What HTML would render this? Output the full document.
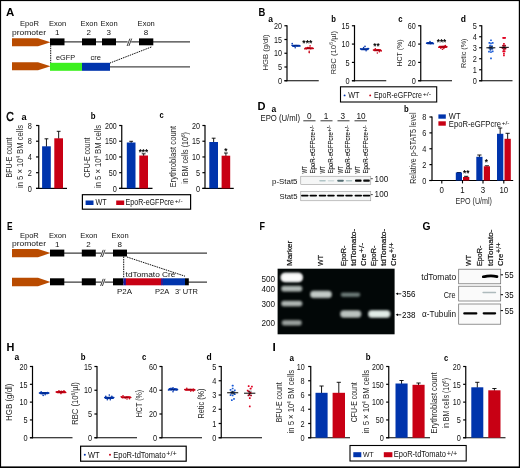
<!DOCTYPE html>
<html><head><meta charset="utf-8"><title>Figure</title>
<style>html,body{margin:0;padding:0;background:#fff}svg{display:block}text{font-family:"Liberation Sans",sans-serif}</style>
</head><body>
<svg width="520" height="468" viewBox="0 0 520 468">
<rect x="0" y="0" width="520" height="468" fill="#fff"/>
<rect x="0.00" y="0.00" width="520.00" height="1.10" fill="#000" />
<rect x="0.00" y="0.00" width="1.10" height="468.00" fill="#000" />
<rect x="518.80" y="0.00" width="1.20" height="468.00" fill="#000" />
<rect x="0.00" y="466.40" width="520.00" height="1.60" fill="#000" />
<text x="6.00" y="15.70" font-size="10.8" font-weight="bold" fill="#000" textLength="8.30" lengthAdjust="spacingAndGlyphs" >A</text>
<text x="20.00" y="26.00" font-size="8.0" fill="#111" textLength="19.00" lengthAdjust="spacingAndGlyphs" >EpoR</text>
<text x="12.00" y="34.60" font-size="8.0" fill="#111" textLength="34.00" lengthAdjust="spacingAndGlyphs" >promoter</text>
<text x="48.90" y="26.00" font-size="8.0" fill="#111" textLength="17.20" lengthAdjust="spacingAndGlyphs" >Exon</text>
<text x="57.30" y="35.10" font-size="8.0" text-anchor="middle" fill="#111">1</text>
<text x="80.40" y="26.00" font-size="8.0" fill="#111" textLength="17.20" lengthAdjust="spacingAndGlyphs" >Exon</text>
<text x="88.80" y="35.10" font-size="8.0" text-anchor="middle" fill="#111">2</text>
<text x="100.40" y="26.00" font-size="8.0" fill="#111" textLength="17.20" lengthAdjust="spacingAndGlyphs" >Exon</text>
<text x="108.80" y="35.10" font-size="8.0" text-anchor="middle" fill="#111">3</text>
<text x="137.60" y="26.00" font-size="8.0" fill="#111" textLength="17.20" lengthAdjust="spacingAndGlyphs" >Exon</text>
<text x="146.00" y="35.10" font-size="8.0" text-anchor="middle" fill="#111">8</text>
<line x1="50.00" y1="41.80" x2="190.00" y2="41.80" stroke="#3c3c3c" stroke-width="1.25" />
<polygon points="12,38.2 38,38.2 50.5,42.25 38,46.3 12,46.3" fill="#B94B00"/>
<rect x="50.00" y="38.40" width="14.50" height="6.90" fill="#000" />
<rect x="82.00" y="38.40" width="14.00" height="6.90" fill="#000" />
<rect x="102.00" y="38.40" width="14.00" height="6.90" fill="#000" />
<rect x="139.00" y="38.40" width="14.30" height="6.90" fill="#000" />
<rect x="127.60" y="40.50" width="3.60" height="2.50" fill="#fff" />
<line x1="127.10" y1="46.00" x2="129.90" y2="38.60" stroke="#000" stroke-width="0.75" />
<line x1="128.90" y1="46.00" x2="131.70" y2="38.60" stroke="#000" stroke-width="0.75" />
<line x1="50.00" y1="66.80" x2="190.00" y2="66.80" stroke="#484848" stroke-width="1.25" />
<polygon points="12,62.2 38,62.2 50.5,66.25 38,70.3 12,70.3" fill="#B94B00"/>
<rect x="50.00" y="62.80" width="32.00" height="8.00" fill="#3CF01E" />
<rect x="82.00" y="62.80" width="28.00" height="8.00" fill="#0034AC" />
<line x1="50.70" y1="45.30" x2="50.70" y2="62.80" stroke="#000" stroke-width="0.95" stroke-dasharray="1.5 0.9"/>
<line x1="151.30" y1="47.00" x2="110.00" y2="63.00" stroke="#000" stroke-width="0.95" stroke-dasharray="1.5 0.9"/>
<text x="56.00" y="60.20" font-size="8.0" fill="#111" textLength="19.00" lengthAdjust="spacingAndGlyphs" >eGFP</text>
<text x="90.50" y="60.20" font-size="8.0" fill="#111" textLength="10.50" lengthAdjust="spacingAndGlyphs" >cre</text>
<text x="258.60" y="15.50" font-size="10.5" font-weight="bold" fill="#000" textLength="6.80" lengthAdjust="spacingAndGlyphs" >B</text>
<text x="268.20" y="21.60" font-size="8.5" font-weight="bold" fill="#000" textLength="4.70" lengthAdjust="spacingAndGlyphs" >a</text>
<line x1="287.00" y1="25.15" x2="287.00" y2="81.35" stroke="#000" stroke-width="1.2" />
<line x1="284.40" y1="80.75" x2="318.75" y2="80.75" stroke="#000" stroke-width="1.2" />
<line x1="284.40" y1="25.75" x2="287.00" y2="25.75" stroke="#000" stroke-width="1.2" />
<text x="282.00" y="28.93" font-size="9.1" text-anchor="end" fill="#111" textLength="8.00" lengthAdjust="spacingAndGlyphs">20</text>
<line x1="284.40" y1="39.50" x2="287.00" y2="39.50" stroke="#000" stroke-width="1.2" />
<text x="282.00" y="42.69" font-size="9.1" text-anchor="end" fill="#111" textLength="8.00" lengthAdjust="spacingAndGlyphs">15</text>
<line x1="284.40" y1="53.25" x2="287.00" y2="53.25" stroke="#000" stroke-width="1.2" />
<text x="282.00" y="56.44" font-size="9.1" text-anchor="end" fill="#111" textLength="8.00" lengthAdjust="spacingAndGlyphs">10</text>
<line x1="284.40" y1="67.00" x2="287.00" y2="67.00" stroke="#000" stroke-width="1.2" />
<text x="282.00" y="70.19" font-size="9.1" text-anchor="end" fill="#111" textLength="4.10" lengthAdjust="spacingAndGlyphs">5</text>
<line x1="284.40" y1="80.75" x2="287.00" y2="80.75" stroke="#000" stroke-width="1.2" />
<text x="282.00" y="83.94" font-size="9.1" text-anchor="end" fill="#111" textLength="4.10" lengthAdjust="spacingAndGlyphs">0</text>
<text transform="translate(268.00,70.50) rotate(-90)" font-size="7.7" fill="#2a2a2a" textLength="36.00" lengthAdjust="spacingAndGlyphs">HGB (g/dl)</text>
<rect x="291.80" y="44.75" width="8.40" height="2.1" rx="1.05" fill="#0034AC"/>
<circle cx="292.00" cy="45.29" r="0.8" fill="#0034AC"/>
<circle cx="293.33" cy="46.29" r="0.8" fill="#0034AC"/>
<circle cx="294.67" cy="46.17" r="0.8" fill="#0034AC"/>
<circle cx="296.00" cy="45.46" r="0.8" fill="#0034AC"/>
<circle cx="297.33" cy="45.79" r="0.8" fill="#0034AC"/>
<circle cx="298.67" cy="45.73" r="0.8" fill="#0034AC"/>
<circle cx="300.00" cy="46.01" r="0.8" fill="#0034AC"/>
<circle cx="292.20" cy="43.60" r="0.8" fill="#0034AC"/>
<circle cx="295.20" cy="47.70" r="0.8" fill="#0034AC"/>
<line x1="294.00" y1="45.80" x2="298.00" y2="45.80" stroke="#000" stroke-width="0.5" opacity="0.55"/>
<rect x="304.60" y="47.15" width="8.80" height="2.1" rx="1.05" fill="#C80014"/>
<circle cx="304.80" cy="48.84" r="0.8" fill="#C80014"/>
<circle cx="306.20" cy="48.83" r="0.8" fill="#C80014"/>
<circle cx="307.60" cy="47.58" r="0.8" fill="#C80014"/>
<circle cx="309.00" cy="47.62" r="0.8" fill="#C80014"/>
<circle cx="310.40" cy="48.67" r="0.8" fill="#C80014"/>
<circle cx="311.80" cy="48.53" r="0.8" fill="#C80014"/>
<circle cx="313.20" cy="48.44" r="0.8" fill="#C80014"/>
<circle cx="310.10" cy="45.90" r="0.8" fill="#C80014"/>
<circle cx="309.20" cy="51.20" r="0.8" fill="#C80014"/>
<circle cx="309.20" cy="52.60" r="0.8" fill="#C80014"/>
<line x1="307.00" y1="48.20" x2="311.00" y2="48.20" stroke="#000" stroke-width="0.5" opacity="0.55"/>
<text x="307.30" y="46.40" font-size="8.8" text-anchor="middle" font-weight="bold" fill="#000" textLength="10.00" lengthAdjust="spacingAndGlyphs">***</text>
<text x="331.20" y="21.60" font-size="8.5" font-weight="bold" fill="#000" textLength="4.70" lengthAdjust="spacingAndGlyphs" >b</text>
<line x1="354.50" y1="25.15" x2="354.50" y2="81.35" stroke="#000" stroke-width="1.2" />
<line x1="351.90" y1="80.75" x2="386.25" y2="80.75" stroke="#000" stroke-width="1.2" />
<line x1="351.90" y1="25.75" x2="354.50" y2="25.75" stroke="#000" stroke-width="1.2" />
<text x="349.50" y="28.93" font-size="9.1" text-anchor="end" fill="#111" textLength="8.00" lengthAdjust="spacingAndGlyphs">15</text>
<line x1="351.90" y1="44.08" x2="354.50" y2="44.08" stroke="#000" stroke-width="1.2" />
<text x="349.50" y="47.27" font-size="9.1" text-anchor="end" fill="#111" textLength="8.00" lengthAdjust="spacingAndGlyphs">10</text>
<line x1="351.90" y1="62.42" x2="354.50" y2="62.42" stroke="#000" stroke-width="1.2" />
<text x="349.50" y="65.60" font-size="9.1" text-anchor="end" fill="#111" textLength="4.10" lengthAdjust="spacingAndGlyphs">5</text>
<line x1="351.90" y1="80.75" x2="354.50" y2="80.75" stroke="#000" stroke-width="1.2" />
<text x="349.50" y="83.94" font-size="9.1" text-anchor="end" fill="#111" textLength="4.10" lengthAdjust="spacingAndGlyphs">0</text>
<text transform="translate(335.70,74.50) rotate(-90)" font-size="7.7" fill="#2a2a2a" textLength="43.50" lengthAdjust="spacingAndGlyphs">RBC (10<tspan dy="-3.1" font-size="5.6">6</tspan><tspan dy="3.1">/µl)</tspan></text>
<rect x="360.40" y="48.15" width="8.40" height="2.1" rx="1.05" fill="#0034AC"/>
<circle cx="360.60" cy="48.83" r="0.8" fill="#0034AC"/>
<circle cx="361.93" cy="49.26" r="0.8" fill="#0034AC"/>
<circle cx="363.27" cy="49.02" r="0.8" fill="#0034AC"/>
<circle cx="364.60" cy="49.35" r="0.8" fill="#0034AC"/>
<circle cx="365.93" cy="49.38" r="0.8" fill="#0034AC"/>
<circle cx="367.27" cy="48.59" r="0.8" fill="#0034AC"/>
<circle cx="368.60" cy="48.52" r="0.8" fill="#0034AC"/>
<circle cx="365.00" cy="46.40" r="0.8" fill="#0034AC"/>
<circle cx="363.60" cy="47.60" r="0.8" fill="#0034AC"/>
<circle cx="366.10" cy="50.70" r="0.8" fill="#0034AC"/>
<line x1="362.60" y1="49.20" x2="366.60" y2="49.20" stroke="#000" stroke-width="0.5" opacity="0.55"/>
<rect x="373.30" y="49.25" width="8.10" height="2.1" rx="1.05" fill="#C80014"/>
<circle cx="373.50" cy="49.93" r="0.8" fill="#C80014"/>
<circle cx="374.78" cy="49.74" r="0.8" fill="#C80014"/>
<circle cx="376.07" cy="50.15" r="0.8" fill="#C80014"/>
<circle cx="377.35" cy="49.82" r="0.8" fill="#C80014"/>
<circle cx="378.63" cy="49.69" r="0.8" fill="#C80014"/>
<circle cx="379.92" cy="50.16" r="0.8" fill="#C80014"/>
<circle cx="381.20" cy="50.89" r="0.8" fill="#C80014"/>
<circle cx="377.35" cy="53.00" r="0.8" fill="#C80014"/>
<circle cx="375.35" cy="48.70" r="0.8" fill="#C80014"/>
<circle cx="379.35" cy="51.80" r="0.8" fill="#C80014"/>
<line x1="375.35" y1="50.30" x2="379.35" y2="50.30" stroke="#000" stroke-width="0.5" opacity="0.55"/>
<text x="376.40" y="49.30" font-size="8.8" text-anchor="middle" font-weight="bold" fill="#000" textLength="6.40" lengthAdjust="spacingAndGlyphs">**</text>
<text x="398.20" y="21.60" font-size="8.5" font-weight="bold" fill="#000" textLength="4.30" lengthAdjust="spacingAndGlyphs" >c</text>
<line x1="420.75" y1="25.15" x2="420.75" y2="81.35" stroke="#000" stroke-width="1.2" />
<line x1="418.15" y1="80.75" x2="452.00" y2="80.75" stroke="#000" stroke-width="1.2" />
<line x1="418.15" y1="25.75" x2="420.75" y2="25.75" stroke="#000" stroke-width="1.2" />
<text x="415.75" y="28.93" font-size="9.1" text-anchor="end" fill="#111" textLength="8.00" lengthAdjust="spacingAndGlyphs">60</text>
<line x1="418.15" y1="44.08" x2="420.75" y2="44.08" stroke="#000" stroke-width="1.2" />
<text x="415.75" y="47.27" font-size="9.1" text-anchor="end" fill="#111" textLength="8.00" lengthAdjust="spacingAndGlyphs">40</text>
<line x1="418.15" y1="62.42" x2="420.75" y2="62.42" stroke="#000" stroke-width="1.2" />
<text x="415.75" y="65.60" font-size="9.1" text-anchor="end" fill="#111" textLength="8.00" lengthAdjust="spacingAndGlyphs">20</text>
<line x1="418.15" y1="80.75" x2="420.75" y2="80.75" stroke="#000" stroke-width="1.2" />
<text x="415.75" y="83.94" font-size="9.1" text-anchor="end" fill="#111" textLength="4.10" lengthAdjust="spacingAndGlyphs">0</text>
<text transform="translate(401.70,66.50) rotate(-90)" font-size="7.7" fill="#2a2a2a" textLength="27.00" lengthAdjust="spacingAndGlyphs">HCT (%)</text>
<rect x="426.40" y="42.05" width="7.20" height="2.1" rx="1.05" fill="#0034AC"/>
<circle cx="426.60" cy="43.27" r="0.8" fill="#0034AC"/>
<circle cx="427.96" cy="43.44" r="0.8" fill="#0034AC"/>
<circle cx="429.32" cy="43.51" r="0.8" fill="#0034AC"/>
<circle cx="430.68" cy="43.72" r="0.8" fill="#0034AC"/>
<circle cx="432.04" cy="43.44" r="0.8" fill="#0034AC"/>
<circle cx="433.40" cy="43.69" r="0.8" fill="#0034AC"/>
<circle cx="430.00" cy="41.60" r="0.8" fill="#0034AC"/>
<line x1="428.00" y1="43.10" x2="432.00" y2="43.10" stroke="#000" stroke-width="0.5" opacity="0.55"/>
<rect x="438.60" y="45.85" width="8.50" height="2.1" rx="1.05" fill="#C80014"/>
<circle cx="438.80" cy="47.31" r="0.8" fill="#C80014"/>
<circle cx="440.15" cy="47.35" r="0.8" fill="#C80014"/>
<circle cx="441.50" cy="46.88" r="0.8" fill="#C80014"/>
<circle cx="442.85" cy="46.57" r="0.8" fill="#C80014"/>
<circle cx="444.20" cy="46.20" r="0.8" fill="#C80014"/>
<circle cx="445.55" cy="47.13" r="0.8" fill="#C80014"/>
<circle cx="446.90" cy="46.86" r="0.8" fill="#C80014"/>
<circle cx="442.45" cy="49.20" r="0.8" fill="#C80014"/>
<circle cx="443.85" cy="48.50" r="0.8" fill="#C80014"/>
<circle cx="440.85" cy="48.30" r="0.8" fill="#C80014"/>
<circle cx="445.35" cy="45.50" r="0.8" fill="#C80014"/>
<line x1="440.85" y1="46.90" x2="444.85" y2="46.90" stroke="#000" stroke-width="0.5" opacity="0.55"/>
<text x="441.50" y="44.90" font-size="8.8" text-anchor="middle" font-weight="bold" fill="#000" textLength="9.60" lengthAdjust="spacingAndGlyphs">***</text>
<text x="460.80" y="21.60" font-size="8.5" font-weight="bold" fill="#000" textLength="5.20" lengthAdjust="spacingAndGlyphs" >d</text>
<line x1="481.75" y1="25.15" x2="481.75" y2="81.35" stroke="#000" stroke-width="1.2" />
<line x1="479.15" y1="80.75" x2="512.50" y2="80.75" stroke="#000" stroke-width="1.2" />
<line x1="479.15" y1="25.75" x2="481.75" y2="25.75" stroke="#000" stroke-width="1.2" />
<text x="476.75" y="28.93" font-size="9.1" text-anchor="end" fill="#111" textLength="4.10" lengthAdjust="spacingAndGlyphs">5</text>
<line x1="479.15" y1="36.75" x2="481.75" y2="36.75" stroke="#000" stroke-width="1.2" />
<text x="476.75" y="39.94" font-size="9.1" text-anchor="end" fill="#111" textLength="4.10" lengthAdjust="spacingAndGlyphs">4</text>
<line x1="479.15" y1="47.75" x2="481.75" y2="47.75" stroke="#000" stroke-width="1.2" />
<text x="476.75" y="50.94" font-size="9.1" text-anchor="end" fill="#111" textLength="4.10" lengthAdjust="spacingAndGlyphs">3</text>
<line x1="479.15" y1="58.75" x2="481.75" y2="58.75" stroke="#000" stroke-width="1.2" />
<text x="476.75" y="61.94" font-size="9.1" text-anchor="end" fill="#111" textLength="4.10" lengthAdjust="spacingAndGlyphs">2</text>
<line x1="479.15" y1="69.75" x2="481.75" y2="69.75" stroke="#000" stroke-width="1.2" />
<text x="476.75" y="72.94" font-size="9.1" text-anchor="end" fill="#111" textLength="4.10" lengthAdjust="spacingAndGlyphs">1</text>
<line x1="479.15" y1="80.75" x2="481.75" y2="80.75" stroke="#000" stroke-width="1.2" />
<text x="476.75" y="83.94" font-size="9.1" text-anchor="end" fill="#111" textLength="4.10" lengthAdjust="spacingAndGlyphs">0</text>
<text transform="translate(466.00,68.00) rotate(-90)" font-size="7.7" fill="#2a2a2a" textLength="29.50" lengthAdjust="spacingAndGlyphs">Retic (%)</text>
<rect x="490.14" y="39.40" width="1.7" height="1.7" rx="0.3" fill="#1A5BD6"/>
<rect x="488.50" y="42.01" width="1.7" height="1.7" rx="0.3" fill="#1A5BD6"/>
<rect x="490.14" y="42.61" width="1.7" height="1.7" rx="0.3" fill="#1A5BD6"/>
<rect x="491.87" y="42.01" width="1.7" height="1.7" rx="0.3" fill="#1A5BD6"/>
<rect x="489.25" y="44.86" width="1.7" height="1.7" rx="0.3" fill="#1A5BD6"/>
<rect x="491.12" y="45.23" width="1.7" height="1.7" rx="0.3" fill="#1A5BD6"/>
<rect x="488.50" y="47.10" width="1.7" height="1.7" rx="0.3" fill="#1A5BD6"/>
<rect x="490.14" y="47.10" width="1.7" height="1.7" rx="0.3" fill="#1A5BD6"/>
<rect x="491.49" y="47.85" width="1.7" height="1.7" rx="0.3" fill="#1A5BD6"/>
<rect x="489.62" y="48.97" width="1.7" height="1.7" rx="0.3" fill="#1A5BD6"/>
<rect x="488.13" y="50.84" width="1.7" height="1.7" rx="0.3" fill="#1A5BD6"/>
<rect x="490.14" y="51.21" width="1.7" height="1.7" rx="0.3" fill="#1A5BD6"/>
<rect x="491.87" y="50.47" width="1.7" height="1.7" rx="0.3" fill="#1A5BD6"/>
<rect x="490.14" y="57.57" width="1.7" height="1.7" rx="0.3" fill="#1A5BD6"/>
<line x1="486.36" y1="47.80" x2="495.33" y2="47.80" stroke="#000" stroke-width="1.0" />
<line x1="488.85" y1="46.60" x2="492.85" y2="46.60" stroke="#000" stroke-width="0.5" />
<line x1="488.85" y1="49.00" x2="492.85" y2="49.00" stroke="#000" stroke-width="0.5" />
<line x1="490.85" y1="46.60" x2="490.85" y2="49.00" stroke="#000" stroke-width="0.5" />
<rect x="502.34" y="37.00" width="1.7" height="1.7" rx="0.3" fill="#E00020"/>
<rect x="503.23" y="37.00" width="1.7" height="1.7" rx="0.3" fill="#E00020"/>
<rect x="504.21" y="37.00" width="1.7" height="1.7" rx="0.3" fill="#E00020"/>
<rect x="503.08" y="42.99" width="1.7" height="1.7" rx="0.3" fill="#E00020"/>
<rect x="502.34" y="44.86" width="1.7" height="1.7" rx="0.3" fill="#E00020"/>
<rect x="504.21" y="44.86" width="1.7" height="1.7" rx="0.3" fill="#E00020"/>
<rect x="503.08" y="46.73" width="1.7" height="1.7" rx="0.3" fill="#E00020"/>
<rect x="501.59" y="47.10" width="1.7" height="1.7" rx="0.3" fill="#E00020"/>
<rect x="504.58" y="47.85" width="1.7" height="1.7" rx="0.3" fill="#E00020"/>
<rect x="503.08" y="48.97" width="1.7" height="1.7" rx="0.3" fill="#E00020"/>
<rect x="502.34" y="50.47" width="1.7" height="1.7" rx="0.3" fill="#E00020"/>
<rect x="503.83" y="50.47" width="1.7" height="1.7" rx="0.3" fill="#E00020"/>
<rect x="503.08" y="52.71" width="1.7" height="1.7" rx="0.3" fill="#E00020"/>
<rect x="503.08" y="54.58" width="1.7" height="1.7" rx="0.3" fill="#E00020"/>
<line x1="499.30" y1="47.35" x2="508.80" y2="47.35" stroke="#000" stroke-width="1.0" />
<line x1="502.05" y1="45.95" x2="506.05" y2="45.95" stroke="#000" stroke-width="0.5" />
<line x1="502.05" y1="48.75" x2="506.05" y2="48.75" stroke="#000" stroke-width="0.5" />
<line x1="504.05" y1="45.95" x2="504.05" y2="48.75" stroke="#000" stroke-width="0.5" />
<rect x="340.5" y="86.8" width="96.2" height="15.2" fill="#fff" stroke="#000" stroke-width="1.1"/>
<circle cx="344.6" cy="95.4" r="0.95" fill="#0034AC"/>
<text x="348.20" y="98.10" font-size="8.3" fill="#111" textLength="11.30" lengthAdjust="spacingAndGlyphs" >WT</text>
<circle cx="370.2" cy="95.4" r="0.95" fill="#C80014"/>
<text x="373.90" y="98.10" font-size="8.3" fill="#111" textLength="48.10" lengthAdjust="spacingAndGlyphs" >EpoR-eGFPcre</text>
<text x="422.70" y="96.20" font-size="6.2" fill="#111" textLength="8.50" lengthAdjust="spacingAndGlyphs" >+/-</text>
<text x="6.20" y="120.80" font-size="12.6" fill="#000" textLength="7.60" lengthAdjust="spacingAndGlyphs" style="stroke:#000;stroke-width:0.5px">C</text>
<text x="21.60" y="119.50" font-size="8.5" font-weight="bold" fill="#000" textLength="5.10" lengthAdjust="spacingAndGlyphs" >a</text>
<line x1="38.75" y1="124.90" x2="38.75" y2="189.00" stroke="#000" stroke-width="1.2" />
<line x1="36.05" y1="188.40" x2="67.00" y2="188.40" stroke="#000" stroke-width="1.2" />
<line x1="36.05" y1="125.50" x2="38.75" y2="125.50" stroke="#000" stroke-width="1.2" />
<text x="31.85" y="128.69" font-size="9.1" text-anchor="end" fill="#111" textLength="4.10" lengthAdjust="spacingAndGlyphs">8</text>
<line x1="36.05" y1="141.22" x2="38.75" y2="141.22" stroke="#000" stroke-width="1.2" />
<text x="31.85" y="144.41" font-size="9.1" text-anchor="end" fill="#111" textLength="4.10" lengthAdjust="spacingAndGlyphs">8</text>
<line x1="36.05" y1="156.95" x2="38.75" y2="156.95" stroke="#000" stroke-width="1.2" />
<text x="31.85" y="160.13" font-size="9.1" text-anchor="end" fill="#111" textLength="4.10" lengthAdjust="spacingAndGlyphs">4</text>
<line x1="36.05" y1="172.68" x2="38.75" y2="172.68" stroke="#000" stroke-width="1.2" />
<text x="31.85" y="175.86" font-size="9.1" text-anchor="end" fill="#111" textLength="4.10" lengthAdjust="spacingAndGlyphs">2</text>
<line x1="36.05" y1="188.40" x2="38.75" y2="188.40" stroke="#000" stroke-width="1.2" />
<text x="31.85" y="191.59" font-size="9.1" text-anchor="end" fill="#111" textLength="4.10" lengthAdjust="spacingAndGlyphs">0</text>
<line x1="46.45" y1="138.80" x2="46.45" y2="146.80" stroke="#000" stroke-width="0.9" />
<line x1="44.55" y1="138.80" x2="48.35" y2="138.80" stroke="#000" stroke-width="0.9" />
<rect x="42.10" y="146.30" width="8.70" height="42.10" fill="#0034AC" />
<line x1="58.65" y1="131.30" x2="58.65" y2="138.80" stroke="#000" stroke-width="0.9" />
<line x1="56.75" y1="131.30" x2="60.55" y2="131.30" stroke="#000" stroke-width="0.9" />
<rect x="54.30" y="138.30" width="8.70" height="50.10" fill="#C80014" />
<text transform="translate(11.80,177.50) rotate(-90)" font-size="9.7" fill="#2a2a2a" textLength="40.00" lengthAdjust="spacingAndGlyphs">BFU-E count</text>
<text transform="translate(23.20,188.00) rotate(-90)" font-size="9.7" fill="#2a2a2a" textLength="63.00" lengthAdjust="spacingAndGlyphs">in 5 × 10<tspan dy="-3.1" font-size="5.6">4</tspan><tspan dy="3.1"> BM cells</tspan></text>
<text x="90.80" y="119.00" font-size="8.5" font-weight="bold" fill="#000" textLength="4.80" lengthAdjust="spacingAndGlyphs" >b</text>
<line x1="121.75" y1="124.90" x2="121.75" y2="189.00" stroke="#000" stroke-width="1.2" />
<line x1="119.15" y1="188.40" x2="152.50" y2="188.40" stroke="#000" stroke-width="1.2" />
<line x1="119.15" y1="125.50" x2="121.75" y2="125.50" stroke="#000" stroke-width="1.2" />
<text x="116.75" y="128.69" font-size="9.1" text-anchor="end" fill="#111" textLength="11.70" lengthAdjust="spacingAndGlyphs">200</text>
<line x1="119.15" y1="141.22" x2="121.75" y2="141.22" stroke="#000" stroke-width="1.2" />
<text x="116.75" y="144.41" font-size="9.1" text-anchor="end" fill="#111" textLength="11.70" lengthAdjust="spacingAndGlyphs">150</text>
<line x1="119.15" y1="156.95" x2="121.75" y2="156.95" stroke="#000" stroke-width="1.2" />
<text x="116.75" y="160.13" font-size="9.1" text-anchor="end" fill="#111" textLength="11.70" lengthAdjust="spacingAndGlyphs">100</text>
<line x1="119.15" y1="172.68" x2="121.75" y2="172.68" stroke="#000" stroke-width="1.2" />
<text x="116.75" y="175.86" font-size="9.1" text-anchor="end" fill="#111" textLength="8.00" lengthAdjust="spacingAndGlyphs">50</text>
<line x1="119.15" y1="188.40" x2="121.75" y2="188.40" stroke="#000" stroke-width="1.2" />
<text x="116.75" y="191.59" font-size="9.1" text-anchor="end" fill="#111" textLength="4.10" lengthAdjust="spacingAndGlyphs">0</text>
<line x1="131.15" y1="141.30" x2="131.15" y2="143.00" stroke="#000" stroke-width="0.9" />
<line x1="129.25" y1="141.30" x2="133.05" y2="141.30" stroke="#000" stroke-width="0.9" />
<rect x="126.80" y="142.50" width="8.70" height="45.90" fill="#0034AC" />
<line x1="143.65" y1="153.80" x2="143.65" y2="156.00" stroke="#000" stroke-width="0.9" />
<line x1="141.75" y1="153.80" x2="145.55" y2="153.80" stroke="#000" stroke-width="0.9" />
<rect x="139.30" y="155.50" width="8.70" height="32.90" fill="#C80014" />
<text x="143.40" y="154.90" font-size="8.8" text-anchor="middle" font-weight="bold" fill="#000" textLength="9.40" lengthAdjust="spacingAndGlyphs">***</text>
<text transform="translate(90.00,177.50) rotate(-90)" font-size="9.7" fill="#2a2a2a" textLength="40.00" lengthAdjust="spacingAndGlyphs">CFU-E count</text>
<text transform="translate(101.30,188.00) rotate(-90)" font-size="9.7" fill="#2a2a2a" textLength="63.00" lengthAdjust="spacingAndGlyphs">in 5 × 10<tspan dy="-3.1" font-size="5.6">4</tspan><tspan dy="3.1"> BM cells</tspan></text>
<text x="159.60" y="118.40" font-size="8.5" font-weight="bold" fill="#000" textLength="4.20" lengthAdjust="spacingAndGlyphs" >c</text>
<line x1="205.00" y1="124.90" x2="205.00" y2="189.00" stroke="#000" stroke-width="1.2" />
<line x1="202.40" y1="188.40" x2="233.75" y2="188.40" stroke="#000" stroke-width="1.2" />
<line x1="202.40" y1="125.50" x2="205.00" y2="125.50" stroke="#000" stroke-width="1.2" />
<text x="200.00" y="128.69" font-size="9.1" text-anchor="end" fill="#111" textLength="8.00" lengthAdjust="spacingAndGlyphs">20</text>
<line x1="202.40" y1="141.22" x2="205.00" y2="141.22" stroke="#000" stroke-width="1.2" />
<text x="200.00" y="144.41" font-size="9.1" text-anchor="end" fill="#111" textLength="8.00" lengthAdjust="spacingAndGlyphs">15</text>
<line x1="202.40" y1="156.95" x2="205.00" y2="156.95" stroke="#000" stroke-width="1.2" />
<text x="200.00" y="160.13" font-size="9.1" text-anchor="end" fill="#111" textLength="8.00" lengthAdjust="spacingAndGlyphs">10</text>
<line x1="202.40" y1="172.68" x2="205.00" y2="172.68" stroke="#000" stroke-width="1.2" />
<text x="200.00" y="175.86" font-size="9.1" text-anchor="end" fill="#111" textLength="4.10" lengthAdjust="spacingAndGlyphs">5</text>
<line x1="202.40" y1="188.40" x2="205.00" y2="188.40" stroke="#000" stroke-width="1.2" />
<text x="200.00" y="191.59" font-size="9.1" text-anchor="end" fill="#111" textLength="4.10" lengthAdjust="spacingAndGlyphs">0</text>
<line x1="213.65" y1="138.20" x2="213.65" y2="142.50" stroke="#000" stroke-width="0.9" />
<line x1="211.75" y1="138.20" x2="215.55" y2="138.20" stroke="#000" stroke-width="0.9" />
<rect x="209.30" y="142.00" width="8.70" height="46.40" fill="#0034AC" />
<line x1="225.90" y1="153.00" x2="225.90" y2="156.20" stroke="#000" stroke-width="0.9" />
<line x1="224.00" y1="153.00" x2="227.80" y2="153.00" stroke="#000" stroke-width="0.9" />
<rect x="221.60" y="155.70" width="8.60" height="32.70" fill="#C80014" />
<text x="225.80" y="153.70" font-size="8.8" text-anchor="middle" font-weight="bold" fill="#000" textLength="3.20" lengthAdjust="spacingAndGlyphs">*</text>
<text transform="translate(176.00,187.50) rotate(-90)" font-size="9.7" fill="#2a2a2a" textLength="61.50" lengthAdjust="spacingAndGlyphs">Erythroblast count</text>
<text transform="translate(187.60,183.80) rotate(-90)" font-size="8.5" fill="#2a2a2a" textLength="51.80" lengthAdjust="spacingAndGlyphs">in BM cells (10<tspan dy="-3.1" font-size="5.6">6</tspan><tspan dy="3.1">)</tspan></text>
<rect x="82.4" y="194.7" width="108.2" height="14.5" fill="#fff" stroke="#000" stroke-width="1.2"/>
<rect x="85.60" y="200.50" width="7.90" height="4.50" fill="#0034AC" />
<text x="95.60" y="205.30" font-size="8.6" fill="#111" textLength="11.10" lengthAdjust="spacingAndGlyphs" >WT</text>
<rect x="116.20" y="200.50" width="8.00" height="4.50" fill="#C80014" />
<text x="125.60" y="205.30" font-size="8.6" fill="#111" textLength="48.40" lengthAdjust="spacingAndGlyphs" >EpoR-eGFPcre</text>
<text x="174.70" y="203.40" font-size="6.0" fill="#111" textLength="7.90" lengthAdjust="spacingAndGlyphs" >+/-</text>
<text x="257.50" y="110.20" font-size="10.5" font-weight="bold" fill="#000" textLength="8.00" lengthAdjust="spacingAndGlyphs" >D</text>
<text x="271.60" y="112.40" font-size="8.5" font-weight="bold" fill="#000" textLength="4.70" lengthAdjust="spacingAndGlyphs" >a</text>
<text x="260.50" y="121.00" font-size="8.3" fill="#111" textLength="39.50" lengthAdjust="spacingAndGlyphs" >EPO (U/ml)</text>
<text x="309.20" y="119.20" font-size="8.2" text-anchor="middle" fill="#111">0</text>
<line x1="303.30" y1="120.80" x2="315.50" y2="120.80" stroke="#222" stroke-width="0.9" />
<text x="326.00" y="119.20" font-size="8.2" text-anchor="middle" fill="#111">1</text>
<line x1="320.50" y1="120.80" x2="332.50" y2="120.80" stroke="#222" stroke-width="0.9" />
<text x="342.80" y="119.20" font-size="8.2" text-anchor="middle" fill="#111">3</text>
<line x1="337.50" y1="120.80" x2="349.50" y2="120.80" stroke="#222" stroke-width="0.9" />
<text x="361.00" y="119.20" font-size="8.2" text-anchor="middle" fill="#111">10</text>
<line x1="354.50" y1="120.80" x2="367.00" y2="120.80" stroke="#222" stroke-width="0.9" />
<text transform="translate(307.20,173.60) rotate(-90)" font-size="6.5" fill="#111" textLength="7.50" lengthAdjust="spacingAndGlyphs" style="stroke:#111;stroke-width:0.08px">WT</text>
<text transform="translate(315.10,173.60) rotate(-90)" font-size="6.5" fill="#111" textLength="41.60" lengthAdjust="spacingAndGlyphs" style="stroke:#111;stroke-width:0.08px">EpoR-eGFPcre</text>
<text transform="translate(313.60,131.70) rotate(-90)" font-size="5.4" fill="#111" textLength="6.40" lengthAdjust="spacingAndGlyphs" style="stroke:#111;stroke-width:0.08px">+/-</text>
<text transform="translate(324.90,173.60) rotate(-90)" font-size="6.5" fill="#111" textLength="7.50" lengthAdjust="spacingAndGlyphs" style="stroke:#111;stroke-width:0.08px">WT</text>
<text transform="translate(332.80,173.60) rotate(-90)" font-size="6.5" fill="#111" textLength="41.60" lengthAdjust="spacingAndGlyphs" style="stroke:#111;stroke-width:0.08px">EpoR-eGFPcre</text>
<text transform="translate(331.30,131.70) rotate(-90)" font-size="5.4" fill="#111" textLength="6.40" lengthAdjust="spacingAndGlyphs" style="stroke:#111;stroke-width:0.08px">+/-</text>
<text transform="translate(342.50,173.60) rotate(-90)" font-size="6.5" fill="#111" textLength="7.50" lengthAdjust="spacingAndGlyphs" style="stroke:#111;stroke-width:0.08px">WT</text>
<text transform="translate(350.40,173.60) rotate(-90)" font-size="6.5" fill="#111" textLength="41.60" lengthAdjust="spacingAndGlyphs" style="stroke:#111;stroke-width:0.08px">EpoR-eGFPcre</text>
<text transform="translate(348.90,131.70) rotate(-90)" font-size="5.4" fill="#111" textLength="6.40" lengthAdjust="spacingAndGlyphs" style="stroke:#111;stroke-width:0.08px">+/-</text>
<text transform="translate(360.10,173.60) rotate(-90)" font-size="6.5" fill="#111" textLength="7.50" lengthAdjust="spacingAndGlyphs" style="stroke:#111;stroke-width:0.08px">WT</text>
<text transform="translate(368.00,173.60) rotate(-90)" font-size="6.5" fill="#111" textLength="41.60" lengthAdjust="spacingAndGlyphs" style="stroke:#111;stroke-width:0.08px">EpoR-eGFPcre</text>
<text transform="translate(366.50,131.70) rotate(-90)" font-size="5.4" fill="#111" textLength="6.40" lengthAdjust="spacingAndGlyphs" style="stroke:#111;stroke-width:0.08px">+/-</text>
<text x="272.00" y="183.60" font-size="7.8" fill="#111" textLength="25.50" lengthAdjust="spacingAndGlyphs" >p-Stat5</text>
<text x="279.50" y="198.80" font-size="7.8" fill="#111" textLength="18.00" lengthAdjust="spacingAndGlyphs" >Stat5</text>
<defs><filter id="bl" x="-20%" y="-100%" width="140%" height="300%"><feGaussianBlur stdDeviation="0.45"/></filter><filter id="bl2" x="-20%" y="-100%" width="140%" height="300%"><feGaussianBlur stdDeviation="0.9"/></filter></defs>
<rect x="300.8" y="176.2" width="70" height="8.2" fill="#f5f6f6" stroke="#888" stroke-width="0.5"/>
<rect x="300.8" y="191.4" width="70" height="9.4" fill="#f5f6f6" stroke="#888" stroke-width="0.5"/>
<rect x="319.20" y="179.90" width="6.6" height="1.60" rx="0.8" fill="#4c7c80" opacity="0.4" filter="url(#bl)"/>
<rect x="327.70" y="180.00" width="6.6" height="1.40" rx="0.8" fill="#4c7c80" opacity="0.2" filter="url(#bl)"/>
<rect x="337.20" y="179.72" width="6.6" height="1.95" rx="0.8" fill="#1c3c44" opacity="0.75" filter="url(#bl)"/>
<rect x="345.70" y="179.90" width="6.6" height="1.60" rx="0.8" fill="#4c7c80" opacity="0.4" filter="url(#bl)"/>
<rect x="355.00" y="179.60" width="6.6" height="2.20" rx="0.8" fill="#000" opacity="1" filter="url(#bl)"/>
<rect x="363.20" y="179.62" width="6.6" height="2.15" rx="0.8" fill="#000" opacity="0.95" filter="url(#bl)"/>
<rect x="301.05" y="194.7" width="7.5" height="1.8" rx="0.9" fill="#000" filter="url(#bl)"/>
<rect x="309.55" y="194.7" width="7.5" height="1.8" rx="0.9" fill="#000" filter="url(#bl)"/>
<rect x="318.75" y="194.7" width="7.5" height="1.8" rx="0.9" fill="#000" filter="url(#bl)"/>
<rect x="327.25" y="194.7" width="7.5" height="1.8" rx="0.9" fill="#000" filter="url(#bl)"/>
<rect x="336.75" y="194.7" width="7.5" height="1.8" rx="0.9" fill="#000" filter="url(#bl)"/>
<rect x="345.25" y="194.7" width="7.5" height="1.8" rx="0.9" fill="#000" filter="url(#bl)"/>
<rect x="354.55" y="194.7" width="7.5" height="1.8" rx="0.9" fill="#000" filter="url(#bl)"/>
<rect x="362.75" y="194.7" width="7.5" height="1.8" rx="0.9" fill="#000" filter="url(#bl)"/>
<line x1="370.80" y1="178.70" x2="372.80" y2="178.70" stroke="#000" stroke-width="0.7" />
<line x1="370.80" y1="194.60" x2="372.80" y2="194.60" stroke="#000" stroke-width="0.7" />
<text x="374.60" y="181.90" font-size="8.6" fill="#111" textLength="13.60" lengthAdjust="spacingAndGlyphs" >100</text>
<text x="374.60" y="197.20" font-size="8.6" fill="#111" textLength="13.60" lengthAdjust="spacingAndGlyphs" >100</text>
<text x="404.10" y="111.80" font-size="8.5" font-weight="bold" fill="#000" textLength="4.70" lengthAdjust="spacingAndGlyphs" >b</text>
<line x1="432.00" y1="116.40" x2="432.00" y2="181.10" stroke="#000" stroke-width="1.2" />
<line x1="429.40" y1="180.50" x2="513.20" y2="180.50" stroke="#000" stroke-width="1.2" />
<line x1="429.40" y1="117.00" x2="432.00" y2="117.00" stroke="#000" stroke-width="1.2" />
<text x="426.40" y="120.19" font-size="9.1" text-anchor="end" fill="#111" textLength="4.10" lengthAdjust="spacingAndGlyphs">8</text>
<line x1="429.40" y1="132.88" x2="432.00" y2="132.88" stroke="#000" stroke-width="1.2" />
<text x="426.40" y="136.06" font-size="9.1" text-anchor="end" fill="#111" textLength="4.10" lengthAdjust="spacingAndGlyphs">6</text>
<line x1="429.40" y1="148.75" x2="432.00" y2="148.75" stroke="#000" stroke-width="1.2" />
<text x="426.40" y="151.94" font-size="9.1" text-anchor="end" fill="#111" textLength="4.10" lengthAdjust="spacingAndGlyphs">4</text>
<line x1="429.40" y1="164.62" x2="432.00" y2="164.62" stroke="#000" stroke-width="1.2" />
<text x="426.40" y="167.81" font-size="9.1" text-anchor="end" fill="#111" textLength="4.10" lengthAdjust="spacingAndGlyphs">2</text>
<line x1="429.40" y1="180.50" x2="432.00" y2="180.50" stroke="#000" stroke-width="1.2" />
<text x="426.40" y="183.69" font-size="9.1" text-anchor="end" fill="#111" textLength="4.10" lengthAdjust="spacingAndGlyphs">0</text>
<line x1="441.80" y1="180.50" x2="441.80" y2="183.40" stroke="#000" stroke-width="1.1" />
<text x="441.80" y="193.00" font-size="9.2" text-anchor="middle" fill="#111" textLength="4.40" lengthAdjust="spacingAndGlyphs">0</text>
<line x1="462.50" y1="180.50" x2="462.50" y2="183.40" stroke="#000" stroke-width="1.1" />
<text x="462.50" y="193.00" font-size="9.2" text-anchor="middle" fill="#111" textLength="4.40" lengthAdjust="spacingAndGlyphs">1</text>
<line x1="483.00" y1="180.50" x2="483.00" y2="183.40" stroke="#000" stroke-width="1.1" />
<text x="483.00" y="193.00" font-size="9.2" text-anchor="middle" fill="#111" textLength="4.40" lengthAdjust="spacingAndGlyphs">3</text>
<line x1="503.80" y1="180.50" x2="503.80" y2="183.40" stroke="#000" stroke-width="1.1" />
<text x="503.80" y="193.00" font-size="9.2" text-anchor="middle" fill="#111" textLength="8.80" lengthAdjust="spacingAndGlyphs">10</text>
<text x="455.50" y="203.60" font-size="9.2" fill="#2a2a2a" textLength="36.50" lengthAdjust="spacingAndGlyphs" >EPO (U/ml)</text>
<text transform="translate(416.20,183.80) rotate(-90)" font-size="9.7" fill="#2a2a2a" textLength="71.30" lengthAdjust="spacingAndGlyphs">Relative p-STAT5 level</text>
<line x1="458.90" y1="172.50" x2="458.90" y2="173.00" stroke="#000" stroke-width="0.9" />
<line x1="456.80" y1="172.50" x2="461.00" y2="172.50" stroke="#000" stroke-width="0.9" />
<rect x="455.80" y="172.50" width="6.20" height="8.00" fill="#0034AC" />
<line x1="466.15" y1="176.30" x2="466.15" y2="177.50" stroke="#000" stroke-width="0.9" />
<line x1="464.05" y1="176.30" x2="468.25" y2="176.30" stroke="#000" stroke-width="0.9" />
<rect x="463.00" y="177.00" width="6.30" height="3.50" fill="#C80014" />
<line x1="479.40" y1="155.00" x2="479.40" y2="157.30" stroke="#000" stroke-width="0.9" />
<line x1="477.30" y1="155.00" x2="481.50" y2="155.00" stroke="#000" stroke-width="0.9" />
<rect x="476.30" y="156.80" width="6.20" height="23.70" fill="#0034AC" />
<line x1="486.90" y1="165.80" x2="486.90" y2="166.80" stroke="#000" stroke-width="0.9" />
<line x1="484.80" y1="165.80" x2="489.00" y2="165.80" stroke="#000" stroke-width="0.9" />
<rect x="483.80" y="166.30" width="6.20" height="14.20" fill="#C80014" />
<line x1="500.15" y1="128.00" x2="500.15" y2="134.30" stroke="#000" stroke-width="0.9" />
<line x1="498.05" y1="128.00" x2="502.25" y2="128.00" stroke="#000" stroke-width="0.9" />
<rect x="497.00" y="133.80" width="6.30" height="46.70" fill="#0034AC" />
<line x1="507.65" y1="133.30" x2="507.65" y2="139.30" stroke="#000" stroke-width="0.9" />
<line x1="505.55" y1="133.30" x2="509.75" y2="133.30" stroke="#000" stroke-width="0.9" />
<rect x="504.50" y="138.80" width="6.30" height="41.70" fill="#C80014" />
<text x="466.30" y="175.70" font-size="8.8" text-anchor="middle" font-weight="bold" fill="#000" textLength="6.40" lengthAdjust="spacingAndGlyphs">**</text>
<text x="486.40" y="164.90" font-size="8.8" text-anchor="middle" font-weight="bold" fill="#000" textLength="3.20" lengthAdjust="spacingAndGlyphs">*</text>
<rect x="438.40" y="114.40" width="7.40" height="4.30" fill="#0034AC" />
<text x="448.80" y="119.30" font-size="8.6" fill="#111" textLength="11.70" lengthAdjust="spacingAndGlyphs" >WT</text>
<rect x="438.40" y="121.30" width="7.40" height="4.40" fill="#C80014" />
<text x="448.80" y="126.60" font-size="8.6" fill="#111" textLength="52.20" lengthAdjust="spacingAndGlyphs" >EpoR-eGFPcre</text>
<text x="501.70" y="124.70" font-size="6.0" fill="#111" textLength="7.70" lengthAdjust="spacingAndGlyphs" >+/-</text>
<text x="7.00" y="229.60" font-size="10.5" font-weight="bold" fill="#000" textLength="5.60" lengthAdjust="spacingAndGlyphs" >E</text>
<text x="20.00" y="237.60" font-size="8.0" fill="#111" textLength="18.80" lengthAdjust="spacingAndGlyphs" >EpoR</text>
<text x="12.00" y="246.20" font-size="8.0" fill="#111" textLength="34.00" lengthAdjust="spacingAndGlyphs" >promoter</text>
<text x="48.90" y="237.60" font-size="8.0" fill="#111" textLength="17.20" lengthAdjust="spacingAndGlyphs" >Exon</text>
<text x="57.30" y="246.60" font-size="8.0" text-anchor="middle" fill="#111">1</text>
<text x="80.20" y="237.60" font-size="8.0" fill="#111" textLength="17.20" lengthAdjust="spacingAndGlyphs" >Exon</text>
<text x="88.60" y="246.60" font-size="8.0" text-anchor="middle" fill="#111">2</text>
<text x="111.40" y="237.60" font-size="8.0" fill="#111" textLength="17.20" lengthAdjust="spacingAndGlyphs" >Exon</text>
<text x="119.80" y="246.60" font-size="8.0" text-anchor="middle" fill="#111">8</text>
<line x1="50.00" y1="253.00" x2="207.00" y2="253.00" stroke="#3c3c3c" stroke-width="1.25" />
<polygon points="12,249 38,249 50.5,253.1 38,257.2 12,257.2" fill="#B94B00"/>
<rect x="50.00" y="249.60" width="14.30" height="6.90" fill="#000" />
<rect x="81.80" y="249.60" width="14.00" height="6.90" fill="#000" />
<rect x="113.00" y="249.60" width="14.00" height="6.90" fill="#000" />
<rect x="101.30" y="251.50" width="3.30" height="2.90" fill="#fff" />
<line x1="100.60" y1="257.00" x2="103.20" y2="249.80" stroke="#000" stroke-width="0.75" />
<line x1="102.40" y1="257.00" x2="105.00" y2="249.80" stroke="#000" stroke-width="0.75" />
<line x1="50.00" y1="282.00" x2="207.00" y2="282.00" stroke="#3c3c3c" stroke-width="1.25" />
<polygon points="12,277.8 38,277.8 50.5,282.0 38,286.2 12,286.2" fill="#B94B00"/>
<rect x="50.00" y="278.30" width="14.30" height="7.00" fill="#000" />
<rect x="81.80" y="278.30" width="14.00" height="7.00" fill="#000" />
<rect x="113.00" y="278.30" width="10.40" height="7.00" fill="#000" />
<rect x="185.00" y="278.30" width="3.80" height="7.00" fill="#000" />
<rect x="101.30" y="280.50" width="3.30" height="2.90" fill="#fff" />
<line x1="100.60" y1="286.00" x2="103.20" y2="278.80" stroke="#000" stroke-width="0.75" />
<line x1="102.40" y1="286.00" x2="105.00" y2="278.80" stroke="#000" stroke-width="0.75" />
<rect x="123.40" y="278.30" width="2.60" height="7.00" fill="#1a1aa0" />
<rect x="125.80" y="278.30" width="35.50" height="7.00" fill="#C80014" />
<rect x="161.00" y="278.30" width="2.30" height="7.00" fill="#3a1a90" />
<rect x="163.00" y="278.30" width="22.00" height="7.00" fill="#0034AC" />
<line x1="123.70" y1="256.60" x2="123.70" y2="278.30" stroke="#000" stroke-width="0.95" stroke-dasharray="1.5 0.9"/>
<line x1="127.00" y1="257.00" x2="185.00" y2="276.20" stroke="#000" stroke-width="0.95" stroke-dasharray="1.5 0.9"/>
<text x="125.60" y="277.40" font-size="8.0" fill="#111" textLength="49.90" lengthAdjust="spacingAndGlyphs" >tdTomato Cre</text>
<text x="117.00" y="293.60" font-size="8.0" fill="#111" textLength="15.00" lengthAdjust="spacingAndGlyphs" >P2A</text>
<text x="155.00" y="293.60" font-size="8.0" fill="#111" textLength="14.30" lengthAdjust="spacingAndGlyphs" >P2A</text>
<text x="175.00" y="293.60" font-size="8.0" fill="#111" textLength="23.00" lengthAdjust="spacingAndGlyphs" >3' UTR</text>
<text x="259.50" y="229.60" font-size="10.5" font-weight="bold" fill="#000" textLength="5.50" lengthAdjust="spacingAndGlyphs" >F</text>
<rect x="277.60" y="268.70" width="117.00" height="65.60" fill="#020707" />
<text transform="translate(292.30,266.10) rotate(-90)" font-size="7.7" fill="#111" textLength="25.30" lengthAdjust="spacingAndGlyphs" style="stroke:#111;stroke-width:0.2px">Marker</text>
<text transform="translate(323.00,266.10) rotate(-90)" font-size="7.7" fill="#111" textLength="11.10" lengthAdjust="spacingAndGlyphs" style="stroke:#111;stroke-width:0.2px">WT</text>
<text transform="translate(345.50,266.10) rotate(-90)" font-size="7.7" fill="#111" textLength="20.60" lengthAdjust="spacingAndGlyphs" style="stroke:#111;stroke-width:0.2px">EpoR-</text>
<text transform="translate(356.20,266.10) rotate(-90)" font-size="7.7" fill="#111" textLength="37.40" lengthAdjust="spacingAndGlyphs" style="stroke:#111;stroke-width:0.2px">tdTomato-</text>
<text transform="translate(365.70,266.10) rotate(-90)" font-size="7.7" fill="#111" textLength="12.40" lengthAdjust="spacingAndGlyphs" style="stroke:#111;stroke-width:0.2px">Cre</text>
<text transform="translate(363.70,252.90) rotate(-90)" font-size="6.4" fill="#111" textLength="10.10" lengthAdjust="spacingAndGlyphs" style="stroke:#111;stroke-width:0.15px">+/-</text>
<text transform="translate(375.70,266.10) rotate(-90)" font-size="7.7" fill="#111" textLength="20.60" lengthAdjust="spacingAndGlyphs" style="stroke:#111;stroke-width:0.2px">EpoR-</text>
<text transform="translate(386.20,266.10) rotate(-90)" font-size="7.7" fill="#111" textLength="37.40" lengthAdjust="spacingAndGlyphs" style="stroke:#111;stroke-width:0.2px">tdTomato-</text>
<text transform="translate(395.70,266.10) rotate(-90)" font-size="7.7" fill="#111" textLength="12.40" lengthAdjust="spacingAndGlyphs" style="stroke:#111;stroke-width:0.2px">Cre</text>
<text transform="translate(393.70,252.90) rotate(-90)" font-size="6.4" fill="#111" textLength="10.30" lengthAdjust="spacingAndGlyphs" style="stroke:#111;stroke-width:0.15px">+/+</text>
<text x="261.40" y="281.50" font-size="8.6" fill="#111" textLength="13.60" lengthAdjust="spacingAndGlyphs" >500</text>
<text x="261.40" y="291.50" font-size="8.6" fill="#111" textLength="13.60" lengthAdjust="spacingAndGlyphs" >400</text>
<text x="261.40" y="306.90" font-size="8.6" fill="#111" textLength="13.60" lengthAdjust="spacingAndGlyphs" >300</text>
<text x="261.40" y="326.30" font-size="8.6" fill="#111" textLength="13.60" lengthAdjust="spacingAndGlyphs" >200</text>
<rect x="280.40" y="272.50" width="22.70" height="9.80" rx="4.80" fill="#ffffff" opacity="0.50" filter="url(#bl2)"/>
<rect x="281.30" y="273.60" width="20.90" height="7.60" rx="3.80" fill="#ffffff" opacity="0.80" filter="url(#bl2)"/>
<rect x="281.40" y="273.40" width="20.70" height="8.20" rx="4.00" fill="#ffffff" opacity="0.45" filter="url(#bl2)"/>
<rect x="282.30" y="274.50" width="18.90" height="6.00" rx="3.00" fill="#ffffff" opacity="0.72" filter="url(#bl2)"/>
<rect x="280.90" y="285.50" width="21.70" height="6.40" rx="3.10" fill="#e6eeea" opacity="0.40" filter="url(#bl2)"/>
<rect x="281.80" y="286.60" width="19.90" height="4.20" rx="2.10" fill="#e6eeea" opacity="0.64" filter="url(#bl2)"/>
<rect x="280.90" y="300.50" width="21.70" height="6.20" rx="3.00" fill="#e6eeea" opacity="0.40" filter="url(#bl2)"/>
<rect x="281.80" y="301.60" width="19.90" height="4.00" rx="2.00" fill="#e6eeea" opacity="0.64" filter="url(#bl2)"/>
<rect x="281.40" y="319.70" width="20.70" height="6.20" rx="3.00" fill="#e6eeea" opacity="0.33" filter="url(#bl2)"/>
<rect x="282.30" y="320.80" width="18.90" height="4.00" rx="2.00" fill="#e6eeea" opacity="0.52" filter="url(#bl2)"/>
<rect x="309.90" y="290.50" width="22.20" height="7.80" rx="3.80" fill="#e6eeea" opacity="0.45" filter="url(#bl2)"/>
<rect x="310.80" y="291.60" width="20.40" height="5.60" rx="2.80" fill="#e6eeea" opacity="0.72" filter="url(#bl2)"/>
<rect x="340.40" y="292.20" width="20.20" height="5.10" rx="2.45" fill="#cfe4e0" opacity="0.25" filter="url(#bl2)"/>
<rect x="341.30" y="293.30" width="18.40" height="2.90" rx="1.45" fill="#cfe4e0" opacity="0.40" filter="url(#bl2)"/>
<rect x="339.90" y="309.90" width="21.70" height="8.20" rx="4.00" fill="#e6eeea" opacity="0.42" filter="url(#bl2)"/>
<rect x="340.80" y="311.00" width="19.90" height="6.00" rx="3.00" fill="#e6eeea" opacity="0.68" filter="url(#bl2)"/>
<rect x="367.90" y="309.90" width="22.70" height="8.20" rx="4.00" fill="#f4fffa" opacity="0.53" filter="url(#bl2)"/>
<rect x="368.80" y="311.00" width="20.90" height="6.00" rx="3.00" fill="#f4fffa" opacity="0.84" filter="url(#bl2)"/>
<line x1="397.00" y1="293.80" x2="401.30" y2="293.80" stroke="#000" stroke-width="0.8" />
<polygon points="395.6,293.8 398,292.6 398,295.0" fill="#000"/>
<text x="402.00" y="296.80" font-size="8.6" fill="#000" textLength="13.40" lengthAdjust="spacingAndGlyphs" >356</text>
<line x1="397.00" y1="314.80" x2="401.30" y2="314.80" stroke="#000" stroke-width="0.8" />
<polygon points="395.6,314.8 398,313.6 398,316.0" fill="#000"/>
<text x="402.00" y="317.80" font-size="8.6" fill="#000" textLength="13.40" lengthAdjust="spacingAndGlyphs" >238</text>
<text x="422.50" y="229.60" font-size="10.5" font-weight="bold" fill="#000" textLength="8.00" lengthAdjust="spacingAndGlyphs" >G</text>
<text transform="translate(470.50,266.10) rotate(-90)" font-size="7.7" fill="#111" textLength="11.10" lengthAdjust="spacingAndGlyphs" style="stroke:#111;stroke-width:0.2px">WT</text>
<text transform="translate(481.80,266.10) rotate(-90)" font-size="7.7" fill="#111" textLength="20.60" lengthAdjust="spacingAndGlyphs" style="stroke:#111;stroke-width:0.2px">EpoR-</text>
<text transform="translate(493.30,266.10) rotate(-90)" font-size="7.7" fill="#111" textLength="36.60" lengthAdjust="spacingAndGlyphs" style="stroke:#111;stroke-width:0.2px">tdTomato-</text>
<text transform="translate(503.20,266.10) rotate(-90)" font-size="7.7" fill="#111" textLength="12.40" lengthAdjust="spacingAndGlyphs" style="stroke:#111;stroke-width:0.2px">Cre</text>
<text transform="translate(501.20,252.90) rotate(-90)" font-size="6.4" fill="#111" textLength="10.30" lengthAdjust="spacingAndGlyphs" style="stroke:#111;stroke-width:0.15px">+/+</text>
<rect x="458.7" y="269.2" width="42" height="14.60" fill="#fafafa" stroke="#666" stroke-width="0.7"/>
<rect x="458.7" y="286.2" width="42" height="14.80" fill="#fafafa" stroke="#666" stroke-width="0.7"/>
<rect x="458.7" y="304" width="42" height="20.20" fill="#fafafa" stroke="#666" stroke-width="0.7"/>
<text x="421.30" y="280.00" font-size="8.4" fill="#111" textLength="34.90" lengthAdjust="spacingAndGlyphs" >tdTomato</text>
<text x="443.80" y="297.50" font-size="8.4" fill="#111" textLength="11.70" lengthAdjust="spacingAndGlyphs" >Cre</text>
<text x="422.00" y="316.80" font-size="8.4" fill="#111" textLength="34.20" lengthAdjust="spacingAndGlyphs" >α-Tubulin</text>
<path d="M483.3,276.9 Q490.5,274.9 497,276.6" fill="none" stroke="#000" stroke-width="2.7" stroke-linecap="round" filter="url(#bl)"/>
<rect x="482.4" y="291.7" width="13.8" height="1.5" rx="0.7" fill="#7d9094" opacity="0.6" filter="url(#bl)"/>
<rect x="463.2" y="312.3" width="14.2" height="2.3" rx="1.1" fill="#000" filter="url(#bl)"/>
<rect x="482.6" y="312.2" width="13.6" height="2.2" rx="1.1" fill="#000" filter="url(#bl)"/>
<line x1="500.70" y1="274.80" x2="503.00" y2="274.80" stroke="#000" stroke-width="1.0" />
<text x="504.80" y="277.90" font-size="8.8" fill="#000" textLength="8.80" lengthAdjust="spacingAndGlyphs" >55</text>
<line x1="500.70" y1="294.70" x2="503.00" y2="294.70" stroke="#000" stroke-width="1.0" />
<text x="504.80" y="298.00" font-size="8.8" fill="#000" textLength="8.80" lengthAdjust="spacingAndGlyphs" >35</text>
<line x1="500.70" y1="310.60" x2="503.00" y2="310.60" stroke="#000" stroke-width="1.0" />
<text x="504.80" y="314.10" font-size="8.8" fill="#000" textLength="8.80" lengthAdjust="spacingAndGlyphs" >55</text>
<text x="6.50" y="350.50" font-size="10.8" font-weight="bold" fill="#000" textLength="7.90" lengthAdjust="spacingAndGlyphs" >H</text>
<text x="14.60" y="360.00" font-size="8.5" font-weight="bold" fill="#000" textLength="4.70" lengthAdjust="spacingAndGlyphs" >a</text>
<line x1="32.50" y1="365.90" x2="32.50" y2="438.35" stroke="#000" stroke-width="1.2" />
<line x1="29.90" y1="437.75" x2="72.50" y2="437.75" stroke="#000" stroke-width="1.2" />
<line x1="29.90" y1="366.50" x2="32.50" y2="366.50" stroke="#000" stroke-width="1.2" />
<text x="27.50" y="369.69" font-size="9.1" text-anchor="end" fill="#111" textLength="8.00" lengthAdjust="spacingAndGlyphs">20</text>
<line x1="29.90" y1="384.31" x2="32.50" y2="384.31" stroke="#000" stroke-width="1.2" />
<text x="27.50" y="387.50" font-size="9.1" text-anchor="end" fill="#111" textLength="8.00" lengthAdjust="spacingAndGlyphs">15</text>
<line x1="29.90" y1="402.12" x2="32.50" y2="402.12" stroke="#000" stroke-width="1.2" />
<text x="27.50" y="405.31" font-size="9.1" text-anchor="end" fill="#111" textLength="8.00" lengthAdjust="spacingAndGlyphs">10</text>
<line x1="29.90" y1="419.94" x2="32.50" y2="419.94" stroke="#000" stroke-width="1.2" />
<text x="27.50" y="423.12" font-size="9.1" text-anchor="end" fill="#111" textLength="4.10" lengthAdjust="spacingAndGlyphs">5</text>
<line x1="29.90" y1="437.75" x2="32.50" y2="437.75" stroke="#000" stroke-width="1.2" />
<text x="27.50" y="440.94" font-size="9.1" text-anchor="end" fill="#111" textLength="4.10" lengthAdjust="spacingAndGlyphs">0</text>
<text transform="translate(11.60,421.00) rotate(-90)" font-size="9.7" fill="#2a2a2a" textLength="37.50" lengthAdjust="spacingAndGlyphs">HGB (g/dl)</text>
<rect x="39.30" y="392.05" width="9.70" height="2.1" rx="1.05" fill="#0034AC"/>
<circle cx="39.50" cy="393.03" r="0.8" fill="#0034AC"/>
<circle cx="40.83" cy="393.18" r="0.8" fill="#0034AC"/>
<circle cx="42.16" cy="393.69" r="0.8" fill="#0034AC"/>
<circle cx="43.49" cy="393.05" r="0.8" fill="#0034AC"/>
<circle cx="44.81" cy="393.11" r="0.8" fill="#0034AC"/>
<circle cx="46.14" cy="393.22" r="0.8" fill="#0034AC"/>
<circle cx="47.47" cy="392.66" r="0.8" fill="#0034AC"/>
<circle cx="48.80" cy="393.12" r="0.8" fill="#0034AC"/>
<circle cx="43.15" cy="395.40" r="0.8" fill="#0034AC"/>
<circle cx="45.15" cy="394.70" r="0.8" fill="#0034AC"/>
<circle cx="41.15" cy="391.90" r="0.8" fill="#0034AC"/>
<line x1="42.15" y1="393.10" x2="46.15" y2="393.10" stroke="#000" stroke-width="0.5" opacity="0.55"/>
<rect x="56.00" y="391.05" width="9.90" height="2.1" rx="1.05" fill="#C80014"/>
<circle cx="56.20" cy="392.06" r="0.8" fill="#C80014"/>
<circle cx="57.56" cy="392.32" r="0.8" fill="#C80014"/>
<circle cx="58.91" cy="392.33" r="0.8" fill="#C80014"/>
<circle cx="60.27" cy="391.60" r="0.8" fill="#C80014"/>
<circle cx="61.63" cy="391.42" r="0.8" fill="#C80014"/>
<circle cx="62.99" cy="391.92" r="0.8" fill="#C80014"/>
<circle cx="64.34" cy="391.78" r="0.8" fill="#C80014"/>
<circle cx="65.70" cy="392.53" r="0.8" fill="#C80014"/>
<circle cx="60.95" cy="393.60" r="0.8" fill="#C80014"/>
<circle cx="58.95" cy="390.80" r="0.8" fill="#C80014"/>
<circle cx="63.95" cy="390.90" r="0.8" fill="#C80014"/>
<line x1="58.95" y1="392.10" x2="62.95" y2="392.10" stroke="#000" stroke-width="0.5" opacity="0.55"/>
<text x="80.80" y="360.00" font-size="8.5" font-weight="bold" fill="#000" textLength="4.80" lengthAdjust="spacingAndGlyphs" >b</text>
<line x1="97.00" y1="365.90" x2="97.00" y2="438.35" stroke="#000" stroke-width="1.2" />
<line x1="94.40" y1="437.75" x2="137.00" y2="437.75" stroke="#000" stroke-width="1.2" />
<line x1="94.40" y1="366.50" x2="97.00" y2="366.50" stroke="#000" stroke-width="1.2" />
<text x="92.00" y="369.69" font-size="9.1" text-anchor="end" fill="#111" textLength="8.00" lengthAdjust="spacingAndGlyphs">15</text>
<line x1="94.40" y1="390.25" x2="97.00" y2="390.25" stroke="#000" stroke-width="1.2" />
<text x="92.00" y="393.44" font-size="9.1" text-anchor="end" fill="#111" textLength="8.00" lengthAdjust="spacingAndGlyphs">10</text>
<line x1="94.40" y1="414.00" x2="97.00" y2="414.00" stroke="#000" stroke-width="1.2" />
<text x="92.00" y="417.19" font-size="9.1" text-anchor="end" fill="#111" textLength="4.10" lengthAdjust="spacingAndGlyphs">5</text>
<line x1="94.40" y1="437.75" x2="97.00" y2="437.75" stroke="#000" stroke-width="1.2" />
<text x="92.00" y="440.94" font-size="9.1" text-anchor="end" fill="#111" textLength="4.10" lengthAdjust="spacingAndGlyphs">0</text>
<text transform="translate(77.60,424.80) rotate(-90)" font-size="9.0" fill="#2a2a2a" textLength="42.60" lengthAdjust="spacingAndGlyphs">RBC (10<tspan dy="-3.1" font-size="5.6">6</tspan><tspan dy="3.1">/µl)</tspan></text>
<rect x="104.60" y="396.85" width="9.40" height="2.1" rx="1.05" fill="#0034AC"/>
<circle cx="104.80" cy="397.56" r="0.8" fill="#0034AC"/>
<circle cx="106.09" cy="398.16" r="0.8" fill="#0034AC"/>
<circle cx="107.37" cy="398.16" r="0.8" fill="#0034AC"/>
<circle cx="108.66" cy="398.39" r="0.8" fill="#0034AC"/>
<circle cx="109.94" cy="397.46" r="0.8" fill="#0034AC"/>
<circle cx="111.23" cy="397.52" r="0.8" fill="#0034AC"/>
<circle cx="112.51" cy="397.41" r="0.8" fill="#0034AC"/>
<circle cx="113.80" cy="397.52" r="0.8" fill="#0034AC"/>
<circle cx="109.30" cy="395.10" r="0.8" fill="#0034AC"/>
<circle cx="107.30" cy="399.70" r="0.8" fill="#0034AC"/>
<circle cx="111.80" cy="396.30" r="0.8" fill="#0034AC"/>
<circle cx="110.30" cy="399.80" r="0.8" fill="#0034AC"/>
<circle cx="105.80" cy="396.40" r="0.8" fill="#0034AC"/>
<line x1="107.30" y1="397.90" x2="111.30" y2="397.90" stroke="#000" stroke-width="0.5" opacity="0.55"/>
<rect x="121.00" y="396.25" width="10.00" height="2.1" rx="1.05" fill="#C80014"/>
<circle cx="121.20" cy="396.75" r="0.8" fill="#C80014"/>
<circle cx="122.57" cy="397.58" r="0.8" fill="#C80014"/>
<circle cx="123.94" cy="397.51" r="0.8" fill="#C80014"/>
<circle cx="125.31" cy="397.92" r="0.8" fill="#C80014"/>
<circle cx="126.69" cy="396.98" r="0.8" fill="#C80014"/>
<circle cx="128.06" cy="396.96" r="0.8" fill="#C80014"/>
<circle cx="129.43" cy="397.63" r="0.8" fill="#C80014"/>
<circle cx="130.80" cy="397.52" r="0.8" fill="#C80014"/>
<circle cx="123.00" cy="395.70" r="0.8" fill="#C80014"/>
<circle cx="127.00" cy="399.00" r="0.8" fill="#C80014"/>
<circle cx="129.50" cy="398.80" r="0.8" fill="#C80014"/>
<line x1="124.00" y1="397.30" x2="128.00" y2="397.30" stroke="#000" stroke-width="0.5" opacity="0.55"/>
<text x="142.00" y="360.00" font-size="8.5" font-weight="bold" fill="#000" textLength="4.30" lengthAdjust="spacingAndGlyphs" >c</text>
<line x1="162.00" y1="365.90" x2="162.00" y2="438.35" stroke="#000" stroke-width="1.2" />
<line x1="159.40" y1="437.75" x2="202.00" y2="437.75" stroke="#000" stroke-width="1.2" />
<line x1="159.40" y1="366.50" x2="162.00" y2="366.50" stroke="#000" stroke-width="1.2" />
<text x="157.00" y="369.69" font-size="9.1" text-anchor="end" fill="#111" textLength="8.00" lengthAdjust="spacingAndGlyphs">60</text>
<line x1="159.40" y1="390.25" x2="162.00" y2="390.25" stroke="#000" stroke-width="1.2" />
<text x="157.00" y="393.44" font-size="9.1" text-anchor="end" fill="#111" textLength="8.00" lengthAdjust="spacingAndGlyphs">40</text>
<line x1="159.40" y1="414.00" x2="162.00" y2="414.00" stroke="#000" stroke-width="1.2" />
<text x="157.00" y="417.19" font-size="9.1" text-anchor="end" fill="#111" textLength="8.00" lengthAdjust="spacingAndGlyphs">20</text>
<line x1="159.40" y1="437.75" x2="162.00" y2="437.75" stroke="#000" stroke-width="1.2" />
<text x="157.00" y="440.94" font-size="9.1" text-anchor="end" fill="#111" textLength="4.10" lengthAdjust="spacingAndGlyphs">0</text>
<text transform="translate(141.60,417.30) rotate(-90)" font-size="9.7" fill="#2a2a2a" textLength="27.50" lengthAdjust="spacingAndGlyphs">HCT (%)</text>
<rect x="168.30" y="388.35" width="9.40" height="2.1" rx="1.05" fill="#0034AC"/>
<circle cx="168.50" cy="390.05" r="0.8" fill="#0034AC"/>
<circle cx="169.79" cy="388.72" r="0.8" fill="#0034AC"/>
<circle cx="171.07" cy="389.73" r="0.8" fill="#0034AC"/>
<circle cx="172.36" cy="388.92" r="0.8" fill="#0034AC"/>
<circle cx="173.64" cy="390.08" r="0.8" fill="#0034AC"/>
<circle cx="174.93" cy="388.72" r="0.8" fill="#0034AC"/>
<circle cx="176.21" cy="389.93" r="0.8" fill="#0034AC"/>
<circle cx="177.50" cy="389.65" r="0.8" fill="#0034AC"/>
<circle cx="173.00" cy="387.70" r="0.8" fill="#0034AC"/>
<circle cx="173.00" cy="391.80" r="0.8" fill="#0034AC"/>
<circle cx="171.00" cy="388.20" r="0.8" fill="#0034AC"/>
<line x1="171.00" y1="389.40" x2="175.00" y2="389.40" stroke="#000" stroke-width="0.5" opacity="0.55"/>
<rect x="184.60" y="388.65" width="10.40" height="2.1" rx="1.05" fill="#C80014"/>
<circle cx="184.80" cy="389.51" r="0.8" fill="#C80014"/>
<circle cx="186.23" cy="389.67" r="0.8" fill="#C80014"/>
<circle cx="187.66" cy="389.58" r="0.8" fill="#C80014"/>
<circle cx="189.09" cy="389.63" r="0.8" fill="#C80014"/>
<circle cx="190.51" cy="389.57" r="0.8" fill="#C80014"/>
<circle cx="191.94" cy="389.92" r="0.8" fill="#C80014"/>
<circle cx="193.37" cy="389.36" r="0.8" fill="#C80014"/>
<circle cx="194.80" cy="389.89" r="0.8" fill="#C80014"/>
<circle cx="186.80" cy="388.20" r="0.8" fill="#C80014"/>
<circle cx="190.80" cy="391.10" r="0.8" fill="#C80014"/>
<circle cx="193.30" cy="390.90" r="0.8" fill="#C80014"/>
<line x1="187.80" y1="389.70" x2="191.80" y2="389.70" stroke="#000" stroke-width="0.5" opacity="0.55"/>
<text x="206.60" y="360.00" font-size="8.5" font-weight="bold" fill="#000" textLength="5.20" lengthAdjust="spacingAndGlyphs" >d</text>
<line x1="221.25" y1="365.90" x2="221.25" y2="438.35" stroke="#000" stroke-width="1.2" />
<line x1="218.65" y1="437.75" x2="262.00" y2="437.75" stroke="#000" stroke-width="1.2" />
<line x1="218.65" y1="366.50" x2="221.25" y2="366.50" stroke="#000" stroke-width="1.2" />
<text x="216.25" y="369.69" font-size="9.1" text-anchor="end" fill="#111" textLength="4.10" lengthAdjust="spacingAndGlyphs">5</text>
<line x1="218.65" y1="380.75" x2="221.25" y2="380.75" stroke="#000" stroke-width="1.2" />
<text x="216.25" y="383.94" font-size="9.1" text-anchor="end" fill="#111" textLength="4.10" lengthAdjust="spacingAndGlyphs">4</text>
<line x1="218.65" y1="395.00" x2="221.25" y2="395.00" stroke="#000" stroke-width="1.2" />
<text x="216.25" y="398.19" font-size="9.1" text-anchor="end" fill="#111" textLength="4.10" lengthAdjust="spacingAndGlyphs">3</text>
<line x1="218.65" y1="409.25" x2="221.25" y2="409.25" stroke="#000" stroke-width="1.2" />
<text x="216.25" y="412.44" font-size="9.1" text-anchor="end" fill="#111" textLength="4.10" lengthAdjust="spacingAndGlyphs">2</text>
<line x1="218.65" y1="423.50" x2="221.25" y2="423.50" stroke="#000" stroke-width="1.2" />
<text x="216.25" y="426.69" font-size="9.1" text-anchor="end" fill="#111" textLength="4.10" lengthAdjust="spacingAndGlyphs">1</text>
<line x1="218.65" y1="437.75" x2="221.25" y2="437.75" stroke="#000" stroke-width="1.2" />
<text x="216.25" y="440.94" font-size="9.1" text-anchor="end" fill="#111" textLength="4.10" lengthAdjust="spacingAndGlyphs">0</text>
<text transform="translate(204.30,418.50) rotate(-90)" font-size="9.7" fill="#2a2a2a" textLength="30.00" lengthAdjust="spacingAndGlyphs">Retic (%)</text>
<rect x="231.83" y="384.83" width="1.7" height="1.7" rx="0.3" fill="#1A5BD6"/>
<rect x="231.83" y="387.65" width="1.7" height="1.7" rx="0.3" fill="#1A5BD6"/>
<rect x="229.70" y="389.11" width="1.7" height="1.7" rx="0.3" fill="#1A5BD6"/>
<rect x="233.97" y="389.53" width="1.7" height="1.7" rx="0.3" fill="#1A5BD6"/>
<rect x="231.83" y="390.82" width="1.7" height="1.7" rx="0.3" fill="#1A5BD6"/>
<rect x="230.55" y="392.10" width="1.7" height="1.7" rx="0.3" fill="#1A5BD6"/>
<rect x="233.12" y="392.53" width="1.7" height="1.7" rx="0.3" fill="#1A5BD6"/>
<rect x="229.70" y="394.24" width="1.7" height="1.7" rx="0.3" fill="#1A5BD6"/>
<rect x="231.83" y="394.66" width="1.7" height="1.7" rx="0.3" fill="#1A5BD6"/>
<rect x="233.97" y="393.38" width="1.7" height="1.7" rx="0.3" fill="#1A5BD6"/>
<rect x="233.12" y="398.08" width="1.7" height="1.7" rx="0.3" fill="#1A5BD6"/>
<rect x="230.98" y="399.36" width="1.7" height="1.7" rx="0.3" fill="#1A5BD6"/>
<line x1="227.13" y1="392.78" x2="238.24" y2="392.78" stroke="#000" stroke-width="1.0" />
<line x1="230.68" y1="391.58" x2="234.68" y2="391.58" stroke="#000" stroke-width="0.5" />
<line x1="230.68" y1="393.98" x2="234.68" y2="393.98" stroke="#000" stroke-width="0.5" />
<line x1="232.68" y1="391.58" x2="232.68" y2="393.98" stroke="#000" stroke-width="0.5" />
<rect x="247.82" y="385.26" width="1.7" height="1.7" rx="0.3" fill="#E00020"/>
<rect x="251.06" y="385.69" width="1.7" height="1.7" rx="0.3" fill="#E00020"/>
<rect x="249.78" y="387.83" width="1.7" height="1.7" rx="0.3" fill="#E00020"/>
<rect x="246.79" y="389.71" width="1.7" height="1.7" rx="0.3" fill="#E00020"/>
<rect x="248.07" y="390.82" width="1.7" height="1.7" rx="0.3" fill="#E00020"/>
<rect x="249.78" y="392.10" width="1.7" height="1.7" rx="0.3" fill="#E00020"/>
<rect x="248.50" y="393.38" width="1.7" height="1.7" rx="0.3" fill="#E00020"/>
<rect x="247.65" y="394.66" width="1.7" height="1.7" rx="0.3" fill="#E00020"/>
<rect x="250.21" y="394.66" width="1.7" height="1.7" rx="0.3" fill="#E00020"/>
<rect x="248.93" y="397.23" width="1.7" height="1.7" rx="0.3" fill="#E00020"/>
<rect x="248.93" y="405.60" width="1.7" height="1.7" rx="0.3" fill="#E00020"/>
<line x1="244.05" y1="393.21" x2="255.33" y2="393.21" stroke="#000" stroke-width="1.0" />
<line x1="247.69" y1="391.21" x2="251.69" y2="391.21" stroke="#000" stroke-width="0.5" />
<line x1="247.69" y1="395.21" x2="251.69" y2="395.21" stroke="#000" stroke-width="0.5" />
<line x1="249.69" y1="391.21" x2="249.69" y2="395.21" stroke="#000" stroke-width="0.5" />
<rect x="80.6" y="446.2" width="105.6" height="15" fill="#fff" stroke="#000" stroke-width="1.2"/>
<circle cx="84.8" cy="454.8" r="1" fill="#0034AC"/>
<text x="88.00" y="457.70" font-size="9" fill="#111" textLength="11.60" lengthAdjust="spacingAndGlyphs" >WT</text>
<circle cx="110" cy="454.8" r="1" fill="#C80014"/>
<text x="113.20" y="457.50" font-size="8.6" fill="#111" textLength="52.40" lengthAdjust="spacingAndGlyphs" >EpoR-tdTomato</text>
<text x="166.30" y="455.90" font-size="6.6" fill="#111" textLength="10.40" lengthAdjust="spacingAndGlyphs" >+/+</text>
<text x="272.4" y="350.8" font-size="11.8" font-weight="bold" fill="#000">I</text>
<text x="289.60" y="360.50" font-size="8.5" font-weight="bold" fill="#000" textLength="4.50" lengthAdjust="spacingAndGlyphs" >a</text>
<line x1="310.75" y1="365.90" x2="310.75" y2="438.35" stroke="#000" stroke-width="1.2" />
<line x1="308.15" y1="437.75" x2="350.00" y2="437.75" stroke="#000" stroke-width="1.2" />
<line x1="308.15" y1="366.50" x2="310.75" y2="366.50" stroke="#000" stroke-width="1.2" />
<text x="304.65" y="369.69" font-size="9.1" text-anchor="end" fill="#111" textLength="8.00" lengthAdjust="spacingAndGlyphs">10</text>
<line x1="308.15" y1="380.75" x2="310.75" y2="380.75" stroke="#000" stroke-width="1.2" />
<text x="304.65" y="383.94" font-size="9.1" text-anchor="end" fill="#111" textLength="4.10" lengthAdjust="spacingAndGlyphs">8</text>
<line x1="308.15" y1="395.00" x2="310.75" y2="395.00" stroke="#000" stroke-width="1.2" />
<text x="304.65" y="398.19" font-size="9.1" text-anchor="end" fill="#111" textLength="4.10" lengthAdjust="spacingAndGlyphs">6</text>
<line x1="308.15" y1="409.25" x2="310.75" y2="409.25" stroke="#000" stroke-width="1.2" />
<text x="304.65" y="412.44" font-size="9.1" text-anchor="end" fill="#111" textLength="4.10" lengthAdjust="spacingAndGlyphs">4</text>
<line x1="308.15" y1="423.50" x2="310.75" y2="423.50" stroke="#000" stroke-width="1.2" />
<text x="304.65" y="426.69" font-size="9.1" text-anchor="end" fill="#111" textLength="4.10" lengthAdjust="spacingAndGlyphs">2</text>
<line x1="308.15" y1="437.75" x2="310.75" y2="437.75" stroke="#000" stroke-width="1.2" />
<text x="304.65" y="440.94" font-size="9.1" text-anchor="end" fill="#111" textLength="4.10" lengthAdjust="spacingAndGlyphs">0</text>
<line x1="321.55" y1="386.00" x2="321.55" y2="393.30" stroke="#000" stroke-width="0.9" />
<line x1="319.45" y1="386.00" x2="323.65" y2="386.00" stroke="#000" stroke-width="0.9" />
<rect x="315.50" y="392.80" width="12.10" height="44.95" fill="#0034AC" />
<line x1="338.80" y1="382.30" x2="338.80" y2="393.30" stroke="#000" stroke-width="0.9" />
<line x1="336.70" y1="382.30" x2="340.90" y2="382.30" stroke="#000" stroke-width="0.9" />
<rect x="332.60" y="392.80" width="12.40" height="44.95" fill="#C80014" />
<text transform="translate(282.40,422.30) rotate(-90)" font-size="9.7" fill="#2a2a2a" textLength="40.00" lengthAdjust="spacingAndGlyphs">BFU-E count</text>
<text transform="translate(293.60,433.50) rotate(-90)" font-size="9.7" fill="#2a2a2a" textLength="63.70" lengthAdjust="spacingAndGlyphs">in 5 × 10<tspan dy="-3.1" font-size="5.6">4</tspan><tspan dy="3.1"> BM cells</tspan></text>
<text x="365.80" y="360.00" font-size="8.5" font-weight="bold" fill="#000" textLength="4.80" lengthAdjust="spacingAndGlyphs" >b</text>
<line x1="388.75" y1="365.90" x2="388.75" y2="438.35" stroke="#000" stroke-width="1.2" />
<line x1="386.15" y1="437.75" x2="430.00" y2="437.75" stroke="#000" stroke-width="1.2" />
<line x1="386.15" y1="366.50" x2="388.75" y2="366.50" stroke="#000" stroke-width="1.2" />
<text x="383.75" y="369.69" font-size="9.1" text-anchor="end" fill="#111" textLength="11.70" lengthAdjust="spacingAndGlyphs">200</text>
<line x1="386.15" y1="384.31" x2="388.75" y2="384.31" stroke="#000" stroke-width="1.2" />
<text x="383.75" y="387.50" font-size="9.1" text-anchor="end" fill="#111" textLength="11.70" lengthAdjust="spacingAndGlyphs">150</text>
<line x1="386.15" y1="402.12" x2="388.75" y2="402.12" stroke="#000" stroke-width="1.2" />
<text x="383.75" y="405.31" font-size="9.1" text-anchor="end" fill="#111" textLength="11.70" lengthAdjust="spacingAndGlyphs">100</text>
<line x1="386.15" y1="419.94" x2="388.75" y2="419.94" stroke="#000" stroke-width="1.2" />
<text x="383.75" y="423.12" font-size="9.1" text-anchor="end" fill="#111" textLength="8.00" lengthAdjust="spacingAndGlyphs">50</text>
<line x1="386.15" y1="437.75" x2="388.75" y2="437.75" stroke="#000" stroke-width="1.2" />
<text x="383.75" y="440.94" font-size="9.1" text-anchor="end" fill="#111" textLength="4.10" lengthAdjust="spacingAndGlyphs">0</text>
<line x1="401.55" y1="380.50" x2="401.55" y2="384.00" stroke="#000" stroke-width="0.9" />
<line x1="399.45" y1="380.50" x2="403.65" y2="380.50" stroke="#000" stroke-width="0.9" />
<rect x="395.50" y="383.50" width="12.10" height="54.25" fill="#0034AC" />
<line x1="418.55" y1="383.00" x2="418.55" y2="385.30" stroke="#000" stroke-width="0.9" />
<line x1="416.45" y1="383.00" x2="420.65" y2="383.00" stroke="#000" stroke-width="0.9" />
<rect x="412.50" y="384.80" width="12.10" height="52.95" fill="#C80014" />
<text transform="translate(357.40,422.30) rotate(-90)" font-size="9.7" fill="#2a2a2a" textLength="40.00" lengthAdjust="spacingAndGlyphs">CFU-E count</text>
<text transform="translate(368.60,433.50) rotate(-90)" font-size="9.7" fill="#2a2a2a" textLength="63.70" lengthAdjust="spacingAndGlyphs">in 5 × 10<tspan dy="-3.1" font-size="5.6">4</tspan><tspan dy="3.1"> BM cells</tspan></text>
<text x="444.00" y="360.50" font-size="8.5" font-weight="bold" fill="#000" textLength="4.20" lengthAdjust="spacingAndGlyphs" >c</text>
<line x1="465.75" y1="365.90" x2="465.75" y2="438.35" stroke="#000" stroke-width="1.2" />
<line x1="463.15" y1="437.75" x2="505.50" y2="437.75" stroke="#000" stroke-width="1.2" />
<line x1="463.15" y1="366.50" x2="465.75" y2="366.50" stroke="#000" stroke-width="1.2" />
<text x="460.75" y="369.69" font-size="9.1" text-anchor="end" fill="#111" textLength="8.00" lengthAdjust="spacingAndGlyphs">20</text>
<line x1="463.15" y1="384.31" x2="465.75" y2="384.31" stroke="#000" stroke-width="1.2" />
<text x="460.75" y="387.50" font-size="9.1" text-anchor="end" fill="#111" textLength="8.00" lengthAdjust="spacingAndGlyphs">15</text>
<line x1="463.15" y1="402.12" x2="465.75" y2="402.12" stroke="#000" stroke-width="1.2" />
<text x="460.75" y="405.31" font-size="9.1" text-anchor="end" fill="#111" textLength="8.00" lengthAdjust="spacingAndGlyphs">10</text>
<line x1="463.15" y1="419.94" x2="465.75" y2="419.94" stroke="#000" stroke-width="1.2" />
<text x="460.75" y="423.12" font-size="9.1" text-anchor="end" fill="#111" textLength="4.10" lengthAdjust="spacingAndGlyphs">5</text>
<line x1="463.15" y1="437.75" x2="465.75" y2="437.75" stroke="#000" stroke-width="1.2" />
<text x="460.75" y="440.94" font-size="9.1" text-anchor="end" fill="#111" textLength="4.10" lengthAdjust="spacingAndGlyphs">0</text>
<line x1="477.30" y1="382.30" x2="477.30" y2="387.80" stroke="#000" stroke-width="0.9" />
<line x1="475.20" y1="382.30" x2="479.40" y2="382.30" stroke="#000" stroke-width="0.9" />
<rect x="471.30" y="387.30" width="12.00" height="50.45" fill="#0034AC" />
<line x1="494.40" y1="388.50" x2="494.40" y2="390.80" stroke="#000" stroke-width="0.9" />
<line x1="492.30" y1="388.50" x2="496.50" y2="388.50" stroke="#000" stroke-width="0.9" />
<rect x="488.30" y="390.30" width="12.20" height="47.45" fill="#C80014" />
<text transform="translate(436.60,433.50) rotate(-90)" font-size="9.7" fill="#2a2a2a" textLength="61.20" lengthAdjust="spacingAndGlyphs">Erythroblast count</text>
<text transform="translate(448.80,428.50) rotate(-90)" font-size="8.5" fill="#2a2a2a" textLength="50.50" lengthAdjust="spacingAndGlyphs">in BM cells (10<tspan dy="-3.1" font-size="5.6">6</tspan><tspan dy="3.1">)</tspan></text>
<rect x="350" y="445.5" width="116.2" height="15.5" fill="#fff" stroke="#000" stroke-width="1.1"/>
<rect x="353.30" y="452.20" width="8.00" height="5.00" fill="#0034AC" />
<text x="363.00" y="457.00" font-size="8.0" fill="#111" textLength="10.80" lengthAdjust="spacingAndGlyphs" >WT</text>
<rect x="383.80" y="452.20" width="8.60" height="5.00" fill="#C80014" />
<text x="393.80" y="457.30" font-size="8.6" fill="#111" textLength="52.20" lengthAdjust="spacingAndGlyphs" >EpoR-tdTomato</text>
<text x="446.70" y="455.70" font-size="6.6" fill="#111" textLength="10.60" lengthAdjust="spacingAndGlyphs" >+/+</text>
</svg>
</body></html>
